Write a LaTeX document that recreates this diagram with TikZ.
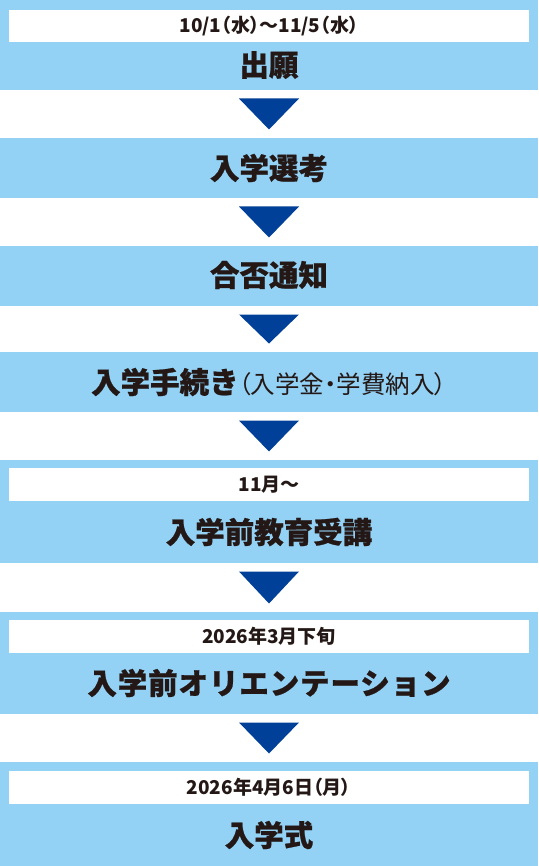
\documentclass[tikz,border=0pt]{standalone}
\usepackage{fontspec}
\setmainfont{Noto Sans CJK JP}[BoldFeatures={FakeBold=0.8}]
\newfontfamily\datefont{Noto Sans CJK JP}[RawFeature=+palt]
\definecolor{bandblue}{HTML}{93D1F5}
\definecolor{triblue}{HTML}{004098}
\definecolor{ink}{HTML}{231815}
\tikzset{
  band/.style={fill=bandblue, draw=none, minimum width=538pt, inner sep=0pt, outer sep=0pt, anchor=north},
  datebox/.style={fill=white, draw=none, minimum width=520pt, minimum height=32.5pt, inner sep=0pt, anchor=north, text=ink,
    font=\datefont\fontsize{19}{19}\selectfont\bfseries},
  maintext/.style={text=ink, inner sep=0pt, font=\fontsize{29.5}{29.5}\selectfont\bfseries},
  arrowtri/.style={fill=triblue, draw=none}
}
\begin{document}
\begin{tikzpicture}[x=1pt,y=-1pt]
\useasboundingbox (0,0) rectangle (538,866);
\fill[white] (0,0) rectangle (538,866);
% bands
\node[band, minimum height=90pt]  (b1) at (269,0) {};
\node[band, minimum height=60pt]  (b2) at (269,138) {};
\node[band, minimum height=60pt]  (b3) at (269,246) {};
\node[band, minimum height=60pt]  (b4) at (269,352) {};
\node[band, minimum height=103pt] (b5) at (269,460) {};
\node[band, minimum height=102pt] (b6) at (269,612) {};
\node[band, minimum height=104pt] (b7) at (269,762) {};
% date boxes
\node[datebox] (d1) at (269,9.5) {10/1（水）〜11/5（水）};
\node[datebox] (d5) at (269,468) {11月〜};
\node[datebox] (d6) at (269,620) {2026年3月下旬};
\node[datebox] (d7) at (269,771) {2026年4月6日（月）};
% main texts
\node[maintext] (t1) at (269,65) {出願};
\node[maintext] (t2) at (269,168) {入学選考};
\node[maintext] (t3) at (269,275) {合否通知};
\node[maintext] (t4) at (269,382) {入学手続き{\datefont\mdseries\fontsize{24.5}{24.5}\selectfont（入学金・学費納入）}};
\node[maintext] (t5) at (269,532) {入学前教育受講};
\node[maintext] (t6) at (269,683) {\addfontfeature{LetterSpace=3}入学前オリエンテーション};
\node[maintext] (t7) at (269,835) {入学式};
% triangles between bands
\foreach \a/\b in {b1/b2,b2/b3,b3/b4,b4/b5,b5/b6,b6/b7}{
  \fill[arrowtri] ([xshift=-30pt,yshift=-8.5pt]\a.south) -- ([xshift=30pt,yshift=-8.5pt]\a.south) -- ([yshift=8.5pt]\b.north) -- cycle;
}
\end{tikzpicture}
\end{document}
